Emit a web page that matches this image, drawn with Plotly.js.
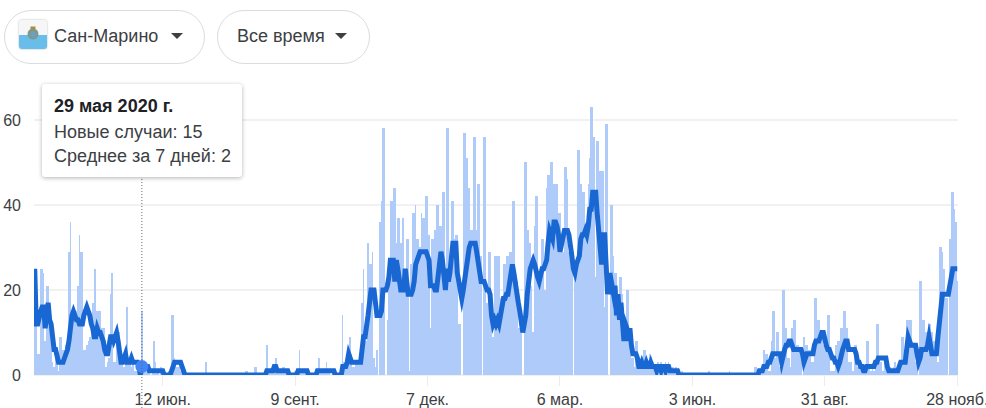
<!DOCTYPE html>
<html lang="ru"><head><meta charset="utf-8">
<script src="https://cdn.plot.ly/plotly-3.0.1.min.js"></script>
<style>
html,body{margin:0;padding:0;background:#fff;width:986px;height:408px;overflow:hidden;font-family:"Liberation Sans",Arial,sans-serif;color:#3c4043}
#chart{position:absolute;left:0;top:0;width:986px;height:408px}
.js-line{stroke-linejoin:miter!important;stroke-miterlimit:6!important}
.pill{position:absolute;top:10px;height:52px;border:1px solid #dadce0;border-radius:27px;background:#fff;box-sizing:content-box}
.pill span{position:absolute;top:15px;font-size:18px;line-height:21px;white-space:nowrap;color:#3c4043}
.arrow{position:absolute;top:22px;width:0;height:0;border-left:6.5px solid transparent;border-right:6.5px solid transparent;border-top:6.5px solid #3c4043}
#flag{position:absolute;left:14px;top:9px;width:28px;height:29px;border-radius:3px;box-shadow:0 0 2px rgba(0,0,0,.35);background:linear-gradient(#f6f6f6 0,#f6f6f6 50%,#69bdea 50%,#69bdea 100%)}
#tip{position:absolute;left:42px;top:84px;width:200px;height:93px;background:#fff;border-radius:3px;box-shadow:0 1px 4px rgba(0,0,0,.3);color:#3c4043}
#tip div{position:absolute;left:12px;white-space:nowrap;font-size:18px;line-height:20px}
</style></head><body>
<div id="chart"></div>
<div class="pill" style="left:4px;width:199px"><div id="flag"><svg width="28" height="29" viewBox="0 0 28 29"><circle cx="14" cy="14" r="5.5" fill="#7f9a86"/><circle cx="14" cy="14.5" r="2.8" fill="#6aa0c8"/><rect x="11.5" y="6.5" width="5" height="3" fill="#a58c4a"/></svg></div><span style="left:49px">Сан-Марино</span><div class="arrow" style="left:166px"></div></div>
<div class="pill" style="left:217px;width:151px"><span style="left:19px">Все время</span><div class="arrow" style="left:117px"></div></div>
<div id="tip"><div style="top:12px;font-weight:bold;color:#202124">29 мая 2020 г.</div><div style="top:38px">Новые случаи: 15</div><div style="top:62px">Среднее за 7 дней: 2</div></div>
<script>
const firstDay = '2020-03-18';
const tickDates = ['2020-06-12','2020-09-09','2020-12-07','2021-03-06','2021-06-03','2021-08-31','2021-11-28'];
const tickLabels = ['12 июн.','9 сент.','7 дек.','6 мар.','3 июн.','31 авг.','28 нояб.'];
const yTicks = [0,20,40,60];
const hoverDate = ['2020-05-29'];
const hoverAverage = [2];

const casesWave1 = [25,14,5,5,25,25,24,8,21,21, 11,11,3,2,5,5,1,9,9,6, 6,7,7,29,36,15,15,15,15,21,
 33,29,29,6,6,7,8,9,13,17, 25,25,15,15,15,11,11,11,2,3, 4,19,24,3,3,10,10,10,3,3,
 2,3,16,3,3,2,3,1,1,3, 1,0,15,2,1,2,1,1,0,1, 8,3,1,1,0,2,1,0,0,0, 1,1,14,14,4,2,2,2,1,1];
const casesSummer2020 = [1,0,0,0,0,0,0,0,0,0, 0,0,0,0,0,3,0,0,0,0, 0,0,0,0,0,0,0,0,0,0, 0,0,0,0,0,0,0,0,0,0,
 0,0,1,1,0,0,0,0,2,2, 0,0,0,0,0,0,7,1,1,1, 1,1,4,1,1,1,1,2,2,1, 1,0,0,0,0,1,0,1,6,1,
 1,1,1,0,0,0,0,0,0,1, 1,4,1,1,1,1,3,1,1,0, 1,1,0,0,0,0,1,14,3,3, 3,6,9,5,2,2,3,3,3,3];
const casesWave2 = [17,25,8,8,31,26,26,29,4,2, 6,0,36,41,58,58,0,13,22,41, 41,44,44,31,37,37,31,37,37,23,
 32,32,1,26,38,38,40,32,32,30, 38,37,37,42,42,33,11,32,32,34, 40,40,35,35,43,43,25,58,58,25,
 41,41,32,33,33,12,12,0,57,57, 51,51,44,34,34,56,56,34,45,45, 28,0,56,56,17,29,29,11,9,28,
 28,28,28,18,18,26,26,28,28,29, 29,41,41,22,22,11,11,10,0,50, 50,34,34,31,21,10,35,42,42,22,
 22,32,32,20,44,47,47,50,50,45, 45,45,38,38,29,29,49,49,46,29, 29,27,0,26,26,53,53,45,43,43,
 36,36,45,51,63,63,56,23,55,55, 48,48,48,16,59,59,0,40,40,28, 24,24,17,23,23,19,12,12,20,20,
 8,4,4,2,8,8,2,2,2,6, 6,3,3,5,5,3,3,2,2,3, 2,3,2,2,3,2,3,1,1,2, 1,2,1,1,0,1,0,0,0,0];
const casesSummer2021 = [0,0,0,0,0,0,0,0,0,0, 0,0,0,1,0,0,0,0,0,0, 0,0,0,0,0,0,0,1,0,0, 0,0,0,0,0,0,0,0,0,0,
 0,0,0,0,2,2,0,0,1,1, 6,5,5,1,1,8,15,15,4,10, 10,2,2,20,20,11,4,4,2,11, 13,13,7,7,6,6,0,9,7,7,
 6,6,3,3,18,18,13,13,10,10, 7,7,7,14,14,1,1,1,7,7, 8,8,11,11,15,15,11,3,3,3, 1,7,7,2,2,2,2,1,1,8,
 8,2,1,2,1,3,12,12,3,3, 1,3,2,1,1,2,1,2,3,1, 2,1,3,9,9,3,13,13,13,13, 7,7,3,3,0,22,22,13,13,10,
 10,12,12,10,8,8,8,3,30,30, 29,25,18,18,0,32,43,43,39,36, 22];

const averageWave1 = [25,12,12,14,15,16,16,11,16,17, 13,12,9,6,6,4,3,3,3,3, 4,5,6,8,13,14,15,14,13,13,
 12,12,12,14,15,16,15,14,12,11, 9,9,11,10,10,9,8,6,5,5, 7,9,9,8,9,10,8,6,3,3,
 4,5,3,3,3,4,3,3,3,3, 2,0,2,2,2,2,2,1,1,1, 1,1,1,1,1,1,1,0,0,0, 0,0,1,2,3,3,3,3,3,2];
const averageSummer2020 = [1,0,0,0,0,0,0,0,0,0, 0,0,0,0,0,0,0,0,0,0, 0,0,0,0,0,0,0,0,0,0, 0,0,0,0,0,0,0,0,0,0,
 0,0,0,0,0,0,0,0,0,0, 0,0,0,0,0,0,1,1,1,1, 1,2,2,1,1,1,1,1,1,1, 1,0,0,0,0,0,0,1,1,1,
 1,1,1,1,0,0,0,0,0,0, 1,1,1,1,1,1,1,1,1,1, 1,1,0,0,0,0,0,2,2,2, 3,5,4,3,3,3,3,3,3,3];
const averageWave2 = [6,9,9,11,14,17,20,20,20,17, 14,14,14,15,20,20,20,21,23,27, 27,27,22,27,25,22,20,20,20,25,
 20,19,19,19,20,22,26,27,28,29, 29,29,29,29,28,27,21,21,21,20, 20,23,26,29,27,24,20,25,22,24,
 27,31,31,31,24,22,20,18,20,23, 26,28,30,31,31,31,31,29,27,24, 22,22,22,21,20,20,19,14,12,13,
 12,13,12,14,16,18,18,19,19,21, 23,26,24,21,19,17,15,12,10,12, 14,19,24,25,26,27,26,24,23,22,
 24,25,25,26,27,31,34,33,32,36, 36,35,33,29,31,33,34,34,34,33, 31,28,25,24,26,27,28,32,33,33,
 34,33,35,39,39,43,43,43,38,34, 30,26,33,33,26,19,24,19,21,19, 21,14,19,13,17,12,8,12,11,8,
 11,7,5,5,5,4,2,2,3,2, 2,3,2,2,3,2,2,2,1,2, 2,1,2,2,1,2,2,1,1,1, 1,1,1,0,0,0,0,0,0,0];
const averageSummer2021 = [0,0,0,0,0,0,0,0,0,0, 0,0,0,0,0,0,0,0,0,0, 0,0,0,0,0,0,0,0,0,0, 0,0,0,0,0,0,0,0,0,0,
 0,0,0,0,0,0,0,1,1,1, 2,2,2,3,3,4,5,5,5,5, 5,5,3,5,6,7,7,8,8,7, 6,6,6,6,6,6,5,3,4,5,
 5,5,5,5,7,8,8,8,9,10, 10,8,7,6,6,5,4,4,3,3, 2,3,5,6,7,8,8,6,6,6, 6,6,5,3,3,2,2,1,1,2,
 2,2,2,2,2,3,3,4,4,4, 4,4,4,2,1,1,1,1,1,1, 1,2,3,3,3,3,6,9,8,7, 7,7,7,5,3,4,6,6,6,6,
 7,9,7,5,5,5,5,9,13,17, 19,19,19,19,19,21,23,25,25,25, 25];

const newCases = [...casesWave1, ...casesSummer2020, ...casesWave2, ...casesSummer2021];
const weekAverage = [...averageWave1, ...averageSummer2020, ...averageWave2, ...averageSummer2021];
const start = Date.parse(firstDay + 'T00:00:00Z');
const days = newCases.map((_, i) => new Date(start + i * 864e5).toISOString().slice(0, 10));

const traces = [
 {type:'bar', x:days, y:newCases, marker:{color:'#aecbfa', line:{width:0}}, hoverinfo:'skip', showlegend:false},
 {type:'scatter', mode:'lines', x:days, y:weekAverage, line:{color:'#1967d2', width:5}, hoverinfo:'skip', showlegend:false, cliponaxis:false},
 {type:'scatter', mode:'markers', x:hoverDate, y:hoverAverage, marker:{color:'#4285f4', size:13, line:{width:0}}, hoverinfo:'skip', showlegend:false, cliponaxis:false}
];
const layout = {
 width:986, height:408, paper_bgcolor:'#fff', plot_bgcolor:'#fff',
 margin:{l:34.3, r:28, t:80, b:33, pad:0}, bargap:0, showlegend:false,
 font:{family:'"Liberation Sans", Arial, sans-serif', size:16, color:'#3c4043'},
 xaxis:{type:'date', range:['2020-03-17 12:00','2021-11-28 12:00'], tickmode:'array', tickvals:tickDates, ticktext:tickLabels,
  ticks:'outside', ticklen:10, tickwidth:1, tickcolor:'#ececec', showgrid:false, zeroline:false, showline:false, tickangle:0,
  tickfont:{size:16,color:'#3c4043'}, ticklabeloverflow:'allow', fixedrange:true},
 yaxis:{range:[0,69.4], tickmode:'array', tickvals:yTicks, ticks:'', showgrid:true, gridcolor:'#f1f1f1', gridwidth:2,
  zeroline:true, zerolinecolor:'#f1f1f1', zerolinewidth:2, showline:false, ticklabelstandoff:12,
  tickfont:{size:16,color:'#3c4043'}, fixedrange:true},
 shapes:[{type:'line', xref:'x', yref:'paper', x0:hoverDate[0], x1:hoverDate[0], y0:-0.112, y1:0.68, line:{color:'#5f6368', width:1, dash:'1px,2px'}, layer:'above'}]
};
Plotly.newPlot('chart', traces, layout, {staticPlot:true, displayModeBar:false});
</script>
</body></html>
